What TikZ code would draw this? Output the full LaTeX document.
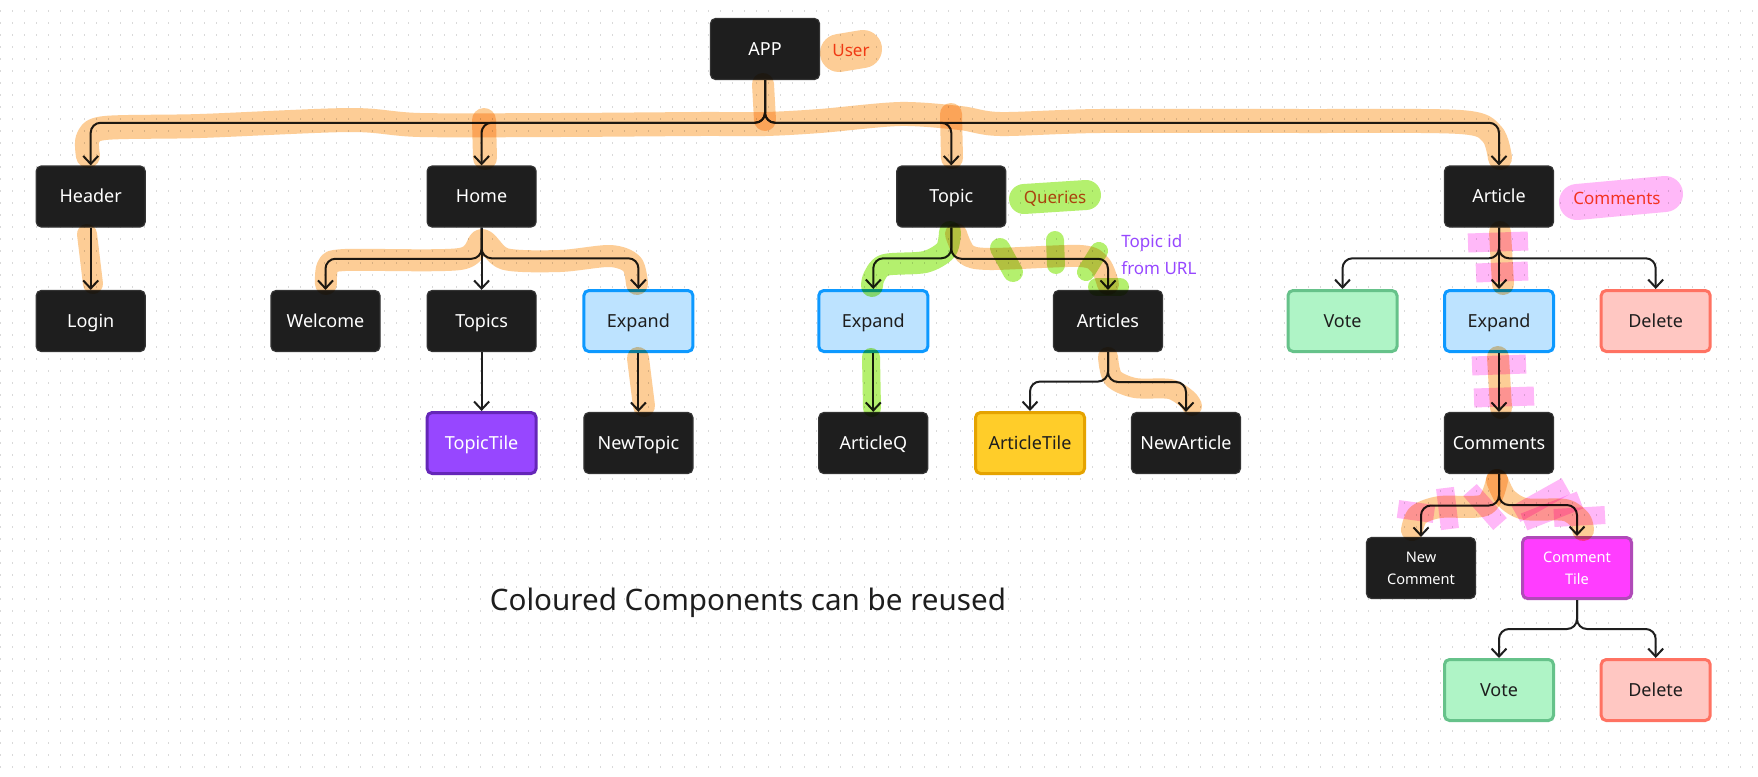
\documentclass[tikz,border=0pt]{standalone}
\usepackage{fontspec}
\setmainfont{Noto Sans}
\usetikzlibrary{arrows.meta,calc}

\definecolor{ink}{HTML}{1E1E1E}
\definecolor{dotgray}{HTML}{D9D9D9}
\definecolor{expfill}{HTML}{BDE3FF}
\definecolor{expline}{HTML}{0D99FF}
\definecolor{votefill}{HTML}{AFF4C6}
\definecolor{voteline}{HTML}{66C28A}
\definecolor{delfill}{HTML}{FFC7C2}
\definecolor{delline}{HTML}{FF7262}
\definecolor{tilefill}{HTML}{9747FF}
\definecolor{tileline}{HTML}{6526B8}
\definecolor{goldfill}{HTML}{FFCD29}
\definecolor{goldline}{HTML}{E5A300}
\definecolor{magfill}{HTML}{FF3DFF}
\definecolor{magline}{HTML}{B04AB8}
\definecolor{notered}{HTML}{F24822}
\definecolor{notepurple}{HTML}{9747FF}
\definecolor{markorange}{HTML}{FDCD96}
\definecolor{markgreen}{HTML}{B4F06E}
\definecolor{markpink}{HTML}{FFB8F8}

\tikzset{
  comp/.style={rounded corners=2.5pt, minimum width=54.5pt, minimum height=30.5pt,
    inner sep=1pt, align=center, font=\fontsize{9}{11}\selectfont,
    text height=7.45pt, text depth=1.05pt},
  twoline/.style={text height=, text depth=, font=\fontsize{7.3}{11}\selectfont},
  plain/.style={comp, fill=ink, draw=black!80, line width=.6pt, text=white},
  expandbox/.style={comp, fill=expfill, draw=expline, line width=1.5pt, text=ink},
  votebox/.style={comp, fill=votefill, draw=voteline, line width=1.5pt, text=ink},
  deletebox/.style={comp, fill=delfill, draw=delline, line width=1.5pt, text=ink},
  tilebox/.style={comp, fill=tilefill, draw=tileline, line width=1.5pt, text=white},
  goldbox/.style={comp, fill=goldfill, draw=goldline, line width=1.5pt, text=ink},
  magbox/.style={comp, fill=magfill, draw=magline, line width=1.5pt, text=white},
  note/.style={font=\fontsize{8.5}{13.5}\selectfont, inner sep=0pt},
  link/.style={draw=ink, line width=1pt, rounded corners=5pt,
    -{Straight Barb[length=4pt,width=7.5pt]}},
  fork/.style={to path={|- ($(\tikztostart)!.5!(\tikztotarget)$) -| (\tikztotarget)}},
  marker/.style={line cap=round, line join=round},
}

\begin{document}
\begin{tikzpicture}[x=0.5pt, y=-0.5pt]
    \useasboundingbox (0,0) rectangle (1758,777);
    \fill[white] (0,0) rectangle (1758,777);

    % dotted canvas
    \foreach \y in {11,23,...,777} {
        \draw[dotgray, line width=.65pt, dash pattern=on .65pt off 5.35pt] (0,\y) -- (1758,\y);
    }

    % components
    \node[plain] (app) at (765,49) {APP};

    \node[plain] (header) at (90.7,196.5) {Header};
    \node[plain] (home) at (481.6,196.5) {Home};
    \node[plain] (topic) at (951.3,196.5) {Topic};
    \node[plain] (article) at (1499,196.5) {Article};

    \node[plain] (login) at (90.7,321) {Login};
    \node[plain] (welcome) at (325.5,321) {Welcome};
    \node[plain] (topics) at (481.6,321) {Topics};
    \node[expandbox] (homeexp) at (638.4,321) {Expand};
    \node[expandbox] (topicexp) at (873.3,321) {Expand};
    \node[plain] (articles) at (1108,321) {Articles};
    \node[votebox] (vote) at (1342.5,321) {Vote};
    \node[expandbox] (artexp) at (1499,321) {Expand};
    \node[deletebox] (delete) at (1655.7,321) {Delete};

    \node[tilebox] (topictile) at (481.6,443) {TopicTile};
    \node[plain] (newtopic) at (638.4,443) {NewTopic};
    \node[plain] (articleq) at (873.3,443) {ArticleQ};
    \node[goldbox] (articletile) at (1030,443) {ArticleTile};
    \node[plain] (newarticle) at (1186,443) {NewArticle};
    \node[plain] (comments) at (1499,443) {Comments};

    \node[plain, twoline] (newcomment) at (1421,568) {New\\Comment};
    \node[magbox, twoline] (commenttile) at (1577,568) {Comment\\Tile};

    \node[votebox] (vote2) at (1499,690) {Vote};
    \node[deletebox] (delete2) at (1655.7,690) {Delete};

    % connectors
    \foreach \kid in {header,home,topic,article}
        \draw[link] (app.south) to[fork] (\kid.north);
    \foreach \kid in {welcome,homeexp}
        \draw[link] (home.south) to[fork] (\kid.north);
    \foreach \kid in {topicexp,articles}
        \draw[link] (topic.south) to[fork] (\kid.north);
    \foreach \kid in {articletile,newarticle}
        \draw[link] (articles.south) to[fork] (\kid.north);
    \foreach \kid in {vote,delete}
        \draw[link] (article.south) to[fork] (\kid.north);
    \foreach \kid in {newcomment,commenttile}
        \draw[link] (comments.south) to[fork] (\kid.north);
    \foreach \kid in {vote2,delete2}
        \draw[link] (commenttile.south) to[fork] (\kid.north);

    \draw[link] (header) -- (login);
    \draw[link] (home) -- (topics);
    \draw[link] (topics) -- (topictile);
    \draw[link] (homeexp) -- (newtopic);
    \draw[link] (topicexp) -- (articleq);
    \draw[link] (article) -- (artexp);
    \draw[link] (artexp) -- (comments);

    % notes
    \node[note, text=notered, anchor=base] (user) at (851,56) {User};
    \node[note, text=notered, anchor=base] (queries) at (1055,203) {Queries};
    \node[note, text=notered, anchor=base] (commentsnote) at (1617,204) {Comments};
    \node[note, text=notepurple, anchor=north west, align=left] (topicid) at (1121,234) {Topic id\\from URL};
    \node[font=\fontsize{14.8}{17}\selectfont, text=ink, anchor=base] (reuse) at (748,610)
        {Coloured Components can be reused};

    % highlighter marks
    \begin{scope}[blend mode=multiply]
        \draw[marker, markorange, line width=19pt] (839,53) -- (863,49);
        \draw[marker, markorange, line width=12pt] plot[smooth, tension=.5] coordinates
            {(88,156) (88,138) (105,128) (200,126) (350,120) (420,125) (560,125)
             (700,124) (765,124) (820,121) (900,114) (960,118) (1000,124) (1100,121)
             (1300,121) (1460,122) (1492,134) (1500,158)};
        \draw[marker, markorange, line width=11pt] (763,84) -- (765,120);
        \draw[marker, markorange, line width=12pt] (484,120) -- (485,158);
        \draw[marker, markorange, line width=11pt] (951,114) -- (952,158);
        \draw[marker, markorange, line width=10pt] (87,234) -- (93,284);
        \draw[marker, markorange, line width=11pt] plot[smooth, tension=.5] coordinates
            {(326,284) (328,266) (345,260) (460,259) (482,240) (505,259) (560,261)
             (610,256) (632,264) (637,284)};
        \draw[marker, markorange, line width=11pt] (638,358) -- (644,406);
        \draw[marker, markorange, line width=11pt] plot[smooth, tension=.5] coordinates
            {(956,234) (966,254) (990,259) (1080,256) (1100,265) (1108,284)};
        \draw[marker, markorange, line width=10pt] plot[smooth, tension=.5] coordinates
            {(1108,357) (1113,378) (1135,388) (1170,389) (1187,399) (1192,406)};
        \draw[marker, markorange, line width=11pt] (1500,232) -- (1503,284);
        \draw[marker, markorange, line width=11pt] (1498,357) -- (1501,408);
        \draw[marker, markorange, line width=11pt] plot[smooth, tension=.5] coordinates
            {(1412,530) (1418,515) (1440,507) (1485,505) (1497,480)};
        \draw[marker, markorange, line width=11pt] plot[smooth, tension=.5] coordinates
            {(1497,480) (1506,498) (1525,509) (1565,510) (1580,520) (1583,530)};

        \draw[marker, markgreen, line width=15pt] (1024,199) -- (1086,195);
        \draw[marker, markgreen, line width=11pt] plot[smooth, tension=.5] coordinates
            {(950,232) (946,250) (925,262) (885,265) (874,277) (872,286)};
        \draw[marker, markgreen, line width=9pt] (871,357) -- (872,408);
        \draw[marker, markgreen, line width=10pt] (1000,248) -- (1013,272);
        \draw[marker, markgreen, line width=9pt] (1055,240) -- (1056,265);
        \draw[marker, markgreen, line width=9pt] (1099,251) -- (1086,272);
        \draw[marker, markgreen, line width=9pt] (1097,287) -- (1120,287);

        \draw[marker, markpink, line width=18pt] (1577,202) -- (1665,194);
        \draw[markpink, line width=9.5pt] (1468,243) -- (1528,241);
        \draw[markpink, line width=9.5pt] (1476,273) -- (1528,271);
        \draw[markpink, line width=9.5pt] (1472,366) -- (1526,364);
        \draw[markpink, line width=9.5pt] (1474,398) -- (1534,396);
        \draw[markpink, line width=9pt] (1398,509) -- (1434,514);
        \draw[markpink, line width=9pt] (1445,488) -- (1450,529);
        \draw[markpink, line width=9pt] (1470,490) -- (1500,524);
        \draw[markpink, line width=9pt] (1516,514) -- (1566,486);
        \draw[markpink, line width=9pt] (1524,522) -- (1580,500);
        \draw[markpink, line width=9pt] (1554,518) -- (1605,515);
    \end{scope}
\end{tikzpicture}
\end{document}
